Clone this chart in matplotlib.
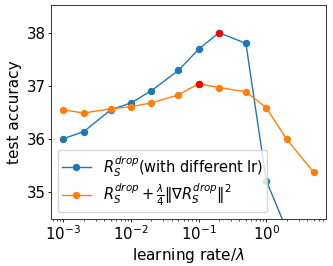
import matplotlib
matplotlib.use("Agg")
import matplotlib.pyplot as plt

x_blue = [1e-3, 2e-3, 5e-3, 1e-2, 2e-2, 5e-2, 1e-1, 2e-1, 5e-1, 1.0, 2.0]
y_blue = [36.01, 36.14, 36.55, 36.68, 36.91, 37.29, 37.69, 38.00, 37.80, 35.22, 34.30]
x_orange = [1e-3, 2e-3, 5e-3, 1e-2, 2e-2, 5e-2, 1e-1, 2e-1, 5e-1, 1.0, 2.0, 5.0]
y_orange = [36.55, 36.49, 36.57, 36.61, 36.68, 36.83, 37.04, 36.97, 36.89, 36.59, 36.00, 35.38]
best_blue = (2e-1, 38.00)
best_orange = (1e-1, 37.04)

fig = plt.figure(figsize=(3.33, 2.66), dpi=100)
ax = fig.add_axes([0.153, 0.177, 0.826, 0.804])
ax.plot(x_blue, y_blue, '-o', color='#1f77b4', lw=1.0, ms=4.3,
        label=r'$R_S^{drop}$(with different lr)')
ax.plot(x_orange, y_orange, '-o', color='#ff7f0e', lw=1.0, ms=4.3,
        label=r'$R_S^{drop}+\frac{\lambda}{4}\|\nabla R_S^{drop}\|^2$')
ax.plot([best_blue[0]], [best_blue[1]], 'o', color='red', ms=4.3)
ax.plot([best_orange[0]], [best_orange[1]], 'o', color='red', ms=4.3)
ax.set_xscale('log')
ax.set_ylim(34.5, 38.52)
ax.set_yticks([35, 36, 37, 38])
for s in ax.spines.values():
    s.set_linewidth(0.7)
    s.set_color('#333333')
ax.tick_params(which='major', labelsize=10.8, pad=2, length=2, width=0.6)
ax.tick_params(which='minor', length=1.2, width=0.5)
ax.set_xlabel(r'learning rate/$\lambda$', fontsize=11, labelpad=2)
ax.set_ylabel('test accuracy', fontsize=11, labelpad=3)
ax.legend(loc='lower left', fontsize=10.5, borderaxespad=0.45,
          handlelength=2.0, borderpad=0.3, labelspacing=0.2)
fig.savefig('out.png', dpi=100)
